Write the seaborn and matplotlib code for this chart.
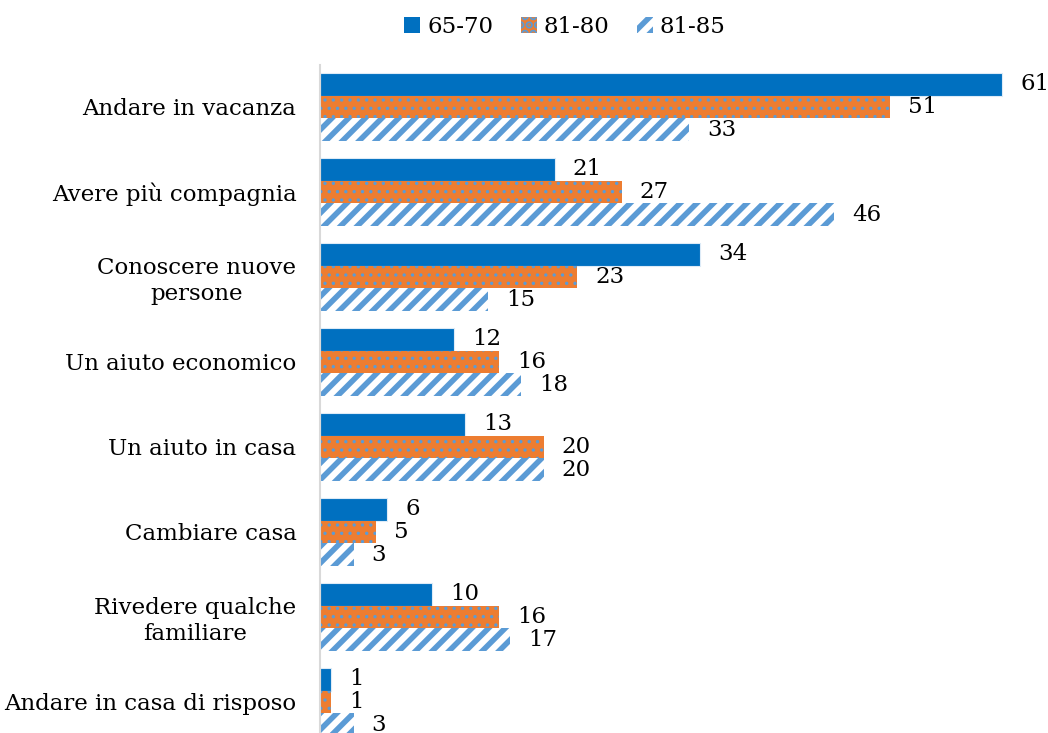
import matplotlib
matplotlib.use("Agg")
import matplotlib.pyplot as plt
import seaborn as sns
import pandas as pd

categories = [
    "Andare in vacanza",
    "Avere più compagnia",
    "Conoscere nuove\npersone",
    "Un aiuto economico",
    "Un aiuto in casa",
    "Cambiare casa",
    "Rivedere qualche\nfamiliare",
    "Andare in casa di risposo",
]
groups = ["65-70", "81-80", "81-85"]
vals_65_70 = [61, 21, 34, 12, 13, 6, 10, 1]
vals_81_80 = [51, 27, 23, 16, 20, 5, 16, 1]
vals_81_85 = [33, 46, 15, 18, 20, 3, 17, 3]

BLUE = "#0070C0"
ORANGE = "#ED7D31"
LIGHT = "#5B9BD5"

rows = []
for g, vals in zip(groups, [vals_65_70, vals_81_80, vals_81_85]):
    for c, v in zip(categories, vals):
        rows.append({"cat": c, "group": g, "value": v})
df = pd.DataFrame(rows)

sns.set_style("white")
plt.rcParams["font.family"] = ["DejaVu Serif"]
plt.rcParams["text.color"] = "black"
plt.rcParams["hatch.linewidth"] = 4.0

W, H = 1048, 733
fig = plt.figure(figsize=(W / 100, H / 100), dpi=100)
ax = fig.add_axes([320 / W, 0, (1040 - 320) / W, (733 - 65) / H])

sns.barplot(data=df, y="cat", x="value", hue="group", order=categories,
            hue_order=groups, palette=[BLUE, ORANGE, "white"], orient="h",
            width=0.8, ax=ax, legend=False, saturation=1)

styles = [
    dict(fc=BLUE, ec="#DDEBF7", hatch=None, lw=0.8, hlw=1),
    dict(fc=ORANGE, ec=LIGHT, hatch="..", lw=0, hlw=1.2),
    dict(fc="white", ec=LIGHT, hatch="//", lw=0, hlw=4.0),
]
for cont, st in zip(ax.containers, styles):
    for p in cont:
        p.set_facecolor(st["fc"])
        p.set_edgecolor(st["ec"])
        p.set_linewidth(st["lw"])
        if st["hatch"]:
            p.set_hatch(st["hatch"])
            if hasattr(p, "set_hatch_linewidth"):
                p.set_hatch_linewidth(st["hlw"])
    ax.bar_label(cont, padding=13, fontsize=16.5, color="black")

ax.set_xlim(0, 720 / 11.18)
ax.set_ylim(7.365, -0.494)
ax.set_xlabel("")
ax.set_ylabel("")
ax.xaxis.set_visible(False)
for s in ["top", "right", "bottom"]:
    ax.spines[s].set_visible(False)
ax.spines["left"].set_color("#D9D9D9")
ax.spines["left"].set_linewidth(1.5)
ax.tick_params(axis="y", length=0, pad=17, labelsize=16.5, labelcolor="black")
for t in ax.get_yticklabels():
    t.set_multialignment("center")

handles = []
for st in styles:
    r = plt.Rectangle((0, 0), 1, 1, fc=st["fc"], ec=st["ec"], hatch=st["hatch"], lw=0)
    if st["hatch"] and hasattr(r, "set_hatch_linewidth"):
        r.set_hatch_linewidth(st["hlw"])
    handles.append(r)
fig.legend(handles, groups, loc="center", bbox_to_anchor=(565 / W, 1 - 27 / H),
           ncol=3, frameon=False, fontsize=16.5, handlelength=0.7,
           handleheight=0.7, handletextpad=0.3, columnspacing=1.2)

fig.savefig("out.png", dpi=100)
